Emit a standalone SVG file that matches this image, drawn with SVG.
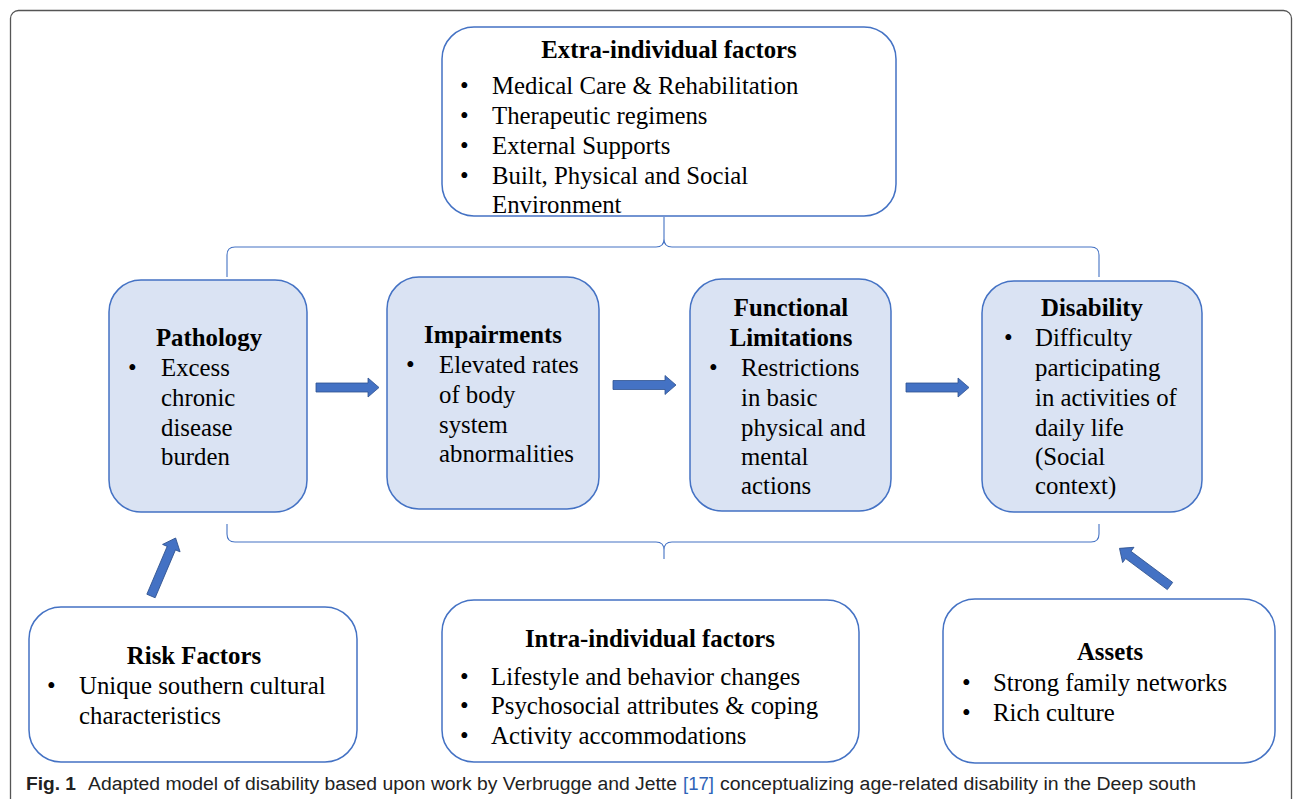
<svg xmlns="http://www.w3.org/2000/svg" width="1293" height="799" viewBox="0 0 1293 799">
<style>
.t{font-family:"Liberation Serif","Times New Roman",serif;font-size:24.8px;fill:#000}
.b{font-weight:bold}
.m{text-anchor:middle}
.box{fill:#fff;stroke:#4472C4;stroke-width:1.5}
.mid{fill:#DAE3F3;stroke:#4472C4;stroke-width:1.5}
.brace{fill:none;stroke:#4472C4;stroke-width:1.1}
.arr{fill:#4472C4;stroke:#2F528F;stroke-width:0.8}
.cap{font-family:"Liberation Sans Narrow","Liberation Sans",Arial,sans-serif;font-size:18px;fill:#222}
</style>
<defs>
<path id="blk" d="M0,-4.5 L52,-4.5 L52,-9.5 L63,0 L52,9.5 L52,4.5 L0,4.5 Z"/>
</defs>
<rect x="10.5" y="10.5" width="1281" height="830" rx="8" fill="#fff" stroke="#555" stroke-width="1.3"/>

<g id="connectors">
<path class="brace" d="M227,277 L227,255 Q227,247 235,247 L656,247 Q664,247 664,239 L664,217 M1099,277 L1099,255 Q1099,247 1091,247 L672,247 Q664,247 664,239"/>
<path class="brace" d="M227,524 L227,534 Q227,542 235,542 L656,542 Q664,542 664,550 L664,559 M1099,524 L1099,534 Q1099,542 1091,542 L672,542 Q664,542 664,550"/>
<use href="#blk" class="arr" transform="translate(316,387.5)"/>
<use href="#blk" class="arr" transform="translate(613,385)"/>
<use href="#blk" class="arr" transform="translate(906,387.5)"/>
<use href="#blk" class="arr" transform="translate(151,596) rotate(-67)"/>
<use href="#blk" class="arr" transform="translate(1170,586) rotate(-143.3)"/>
</g>

<g id="extra">
<rect class="box" x="442" y="27" width="454" height="189" rx="32"/>
<text class="t b m" x="669" y="58">Extra-individual factors</text>
<text class="t" x="460" y="94">•</text><text class="t" x="492" y="94">Medical Care &amp; Rehabilitation</text>
<text class="t" x="460" y="124">•</text><text class="t" x="492" y="124">Therapeutic regimens</text>
<text class="t" x="460" y="154">•</text><text class="t" x="492" y="154">External Supports</text>
<text class="t" x="460" y="184">•</text><text class="t" x="492" y="184">Built, Physical and Social</text>
<text class="t" x="492" y="213">Environment</text>
</g>

<g id="pathology">
<rect class="mid" x="109" y="280" width="198" height="232" rx="32"/>
<text class="t b m" x="209" y="346">Pathology</text>
<text class="t" x="128" y="376">•</text>
<text class="t" x="161" y="376">Excess</text>
<text class="t" x="161" y="406">chronic</text>
<text class="t" x="161" y="436">disease</text>
<text class="t" x="161" y="465">burden</text>
</g>

<g id="impairments">
<rect class="mid" x="387" y="277" width="212" height="232" rx="32"/>
<text class="t b m" x="493" y="343">Impairments</text>
<text class="t" x="406" y="373">•</text>
<text class="t" x="439" y="373">Elevated rates</text>
<text class="t" x="439" y="403">of body</text>
<text class="t" x="439" y="433">system</text>
<text class="t" x="439" y="462">abnormalities</text>
</g>

<g id="functional">
<rect class="mid" x="690" y="279" width="201" height="232" rx="32"/>
<text class="t b m" x="791" y="316">Functional</text>
<text class="t b m" x="791" y="346">Limitations</text>
<text class="t" x="709" y="376">•</text>
<text class="t" x="741" y="376">Restrictions</text>
<text class="t" x="741" y="406">in basic</text>
<text class="t" x="741" y="436">physical and</text>
<text class="t" x="741" y="465">mental</text>
<text class="t" x="741" y="494">actions</text>
</g>

<g id="disability">
<rect class="mid" x="982" y="281" width="220" height="231" rx="32"/>
<text class="t b m" x="1092" y="316">Disability</text>
<text class="t" x="1004" y="346">•</text>
<text class="t" x="1035" y="346">Difficulty</text>
<text class="t" x="1035" y="376">participating</text>
<text class="t" x="1035" y="406">in activities of</text>
<text class="t" x="1035" y="436">daily life</text>
<text class="t" x="1035" y="465">(Social</text>
<text class="t" x="1035" y="494">context)</text>
</g>

<g id="risk">
<rect class="box" x="29" y="607" width="328" height="155" rx="32"/>
<text class="t b m" x="194" y="664">Risk Factors</text>
<text class="t" x="47" y="694">•</text>
<text class="t" x="79" y="694">Unique southern cultural</text>
<text class="t" x="79" y="724">characteristics</text>
</g>

<g id="intra">
<rect class="box" x="442" y="600" width="417" height="162" rx="32"/>
<text class="t b m" x="650" y="647">Intra-individual factors</text>
<text class="t" x="460" y="685">•</text><text class="t" x="491" y="685">Lifestyle and behavior changes</text>
<text class="t" x="460" y="714">•</text><text class="t" x="491" y="714">Psychosocial attributes &amp; coping</text>
<text class="t" x="460" y="744">•</text><text class="t" x="491" y="744">Activity accommodations</text>
</g>

<g id="assets">
<rect class="box" x="943" y="599" width="332" height="164" rx="32"/>
<text class="t b m" x="1110" y="660">Assets</text>
<text class="t" x="962" y="691">•</text><text class="t" x="993" y="691">Strong family networks</text>
<text class="t" x="962" y="721">•</text><text class="t" x="993" y="721">Rich culture</text>
</g>

<g id="caption">
<text class="cap" x="26" y="790" font-weight="bold" textLength="50" lengthAdjust="spacingAndGlyphs">Fig. 1</text>
<text class="cap" x="88" y="790" textLength="589" lengthAdjust="spacingAndGlyphs">Adapted model of disability based upon work by Verbrugge and Jette</text>
<text class="cap" x="683" y="790" style="fill:#2E63B8" textLength="31" lengthAdjust="spacingAndGlyphs">[17]</text>
<text class="cap" x="720" y="790" textLength="476" lengthAdjust="spacingAndGlyphs">conceptualizing age-related disability in the Deep south</text>
</g>
</svg>
